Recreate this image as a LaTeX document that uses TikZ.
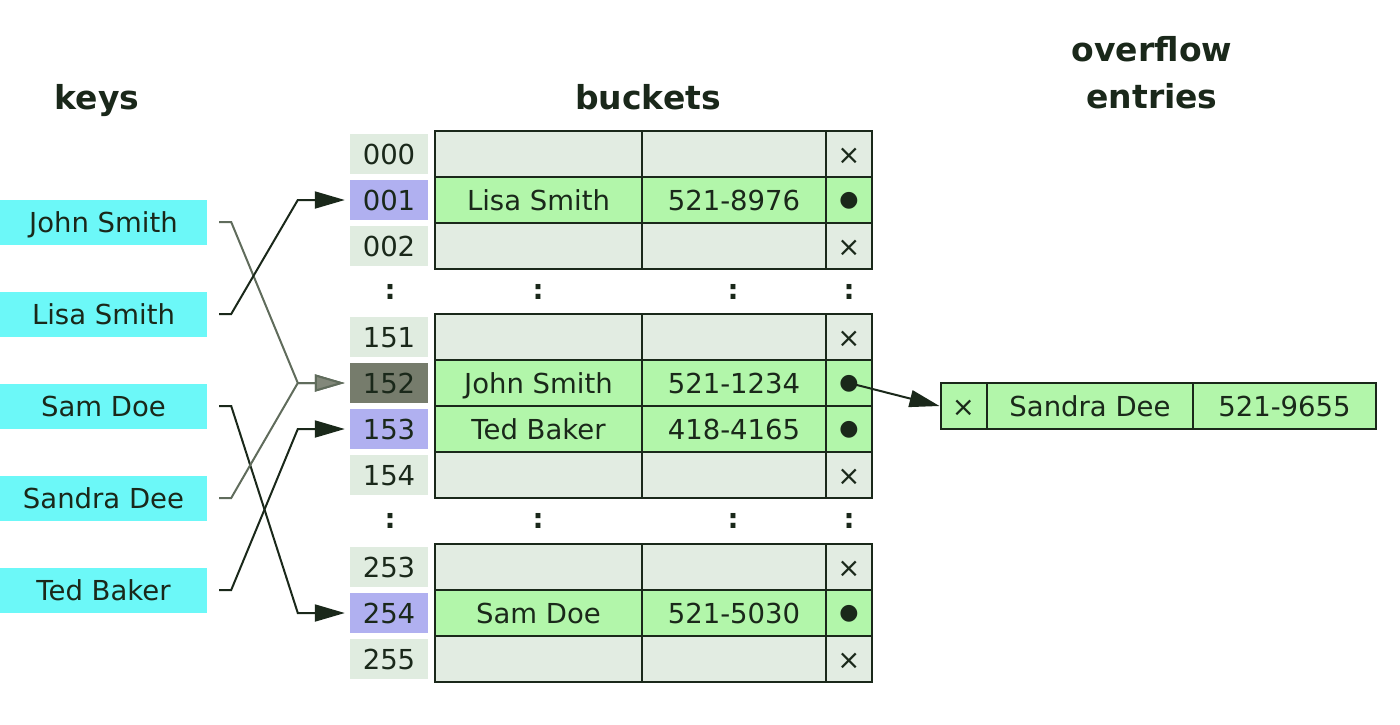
\documentclass[tikz,border=0pt]{standalone}
\usepackage{fontspec}
\setmainfont{DejaVu Sans}
\usetikzlibrary{arrows.meta}

\definecolor{keycyan}{RGB}{108,248,248}
\definecolor{idxgray}{RGB}{224,236,224}
\definecolor{idxblue}{RGB}{176,176,240}
\definecolor{idxdark}{RGB}{118,124,108}
\definecolor{cellgray}{RGB}{226,236,226}
\definecolor{cellgreen}{RGB}{178,246,170}
\definecolor{ink}{RGB}{26,40,26}
\definecolor{graylink}{RGB}{96,108,92}
\definecolor{grayhead}{RGB}{130,136,122}

\newcommand{\dotmark}{\raisebox{4pt}{\fontsize{22}{22}\selectfont ●}}

\begin{document}
\begin{tikzpicture}[x=1pt,y=-1pt,font=\fontsize{27.5}{32}\selectfont,text=ink,
  title/.style={font=\fontsize{33}{47}\selectfont\bfseries,align=center},
  key node/.style={fill=keycyan,minimum width=207pt,minimum height=45pt,inner sep=0pt,text height=22pt,text depth=2pt},
  idx node/.style={fill=idxgray,minimum width=78pt,minimum height=40pt,inner sep=0pt,text height=22pt,text depth=2pt},
  hit node/.style={idx node,fill=idxblue},
  clash node/.style={idx node,fill=idxdark},
  cell/.style={draw=ink,line width=2pt,fill=cellgray,minimum height=46pt,inner sep=0pt,text height=22pt,text depth=2pt},
  free/.style={},
  full/.style={fill=cellgreen},
  name cell/.style={cell,minimum width=207pt},
  phone cell/.style={cell,minimum width=184pt},
  flag cell/.style={cell,minimum width=46pt},
  link/.style={draw=ink,line width=2pt,shorten <=12pt,shorten >=5pt,-{Triangle[length=30pt,width=17pt]}},
  gray link/.style={link,draw=graylink,-{Triangle[length=30pt,width=17pt,fill=grayhead]}}]

  \useasboundingbox (0,0) rectangle (1400,724);

  \node[title,anchor=base] (keys)    at (97,109.5)  {keys};
  \node[title,anchor=base] (buckets) at (648,109.5) {buckets};
  \node[title] (overflow) at (1152,73) {overflow\\entries};

  \node[key node] (john)   at (103.5,222) {John Smith};
  \node[key node] (lisa)   at (103.5,314) {Lisa Smith};
  \node[key node] (sam)    at (103.5,406) {Sam Doe};
  \node[key node] (sandra) at (103.5,498) {Sandra Dee};
  \node[key node] (ted)    at (103.5,590) {Ted Baker};

  % buckets, one row at a time
  \foreach \y/\k/\idx/\st/\n/\p/\f in {
      154/000/idx node/free/{}/{}/×,
      200/001/hit node/full/Lisa Smith/521-8976/\dotmark,
      246/002/idx node/free/{}/{}/×,
      337/151/idx node/free/{}/{}/×,
      383/152/clash node/full/John Smith/521-1234/\dotmark,
      429/153/hit node/full/Ted Baker/418-4165/\dotmark,
      475/154/idx node/free/{}/{}/×,
      567/253/idx node/free/{}/{}/×,
      613/254/hit node/full/Sam Doe/521-5030/\dotmark,
      659/255/idx node/free/{}/{}/×} {
    \node[\idx] (i\k) at (389,\y) {\k};
    \node[name cell,\st]  (n\k) at (538.5,\y) {\n};
    \node[phone cell,\st] (p\k) at (734,\y)   {\p};
    \node[flag cell,\st]  (f\k) at (849,\y)   {\f};
  }

  \foreach \y in {292,521}
    \foreach \x in {390,538,733,849}
      \node (gap-\x-\y) at (\x,\y) {\textbf{:}};

  \node[flag cell,full] (o1) at (963.5,406) {×};
  \node[name cell,full,minimum width=206pt] (o2) at (1090,406) {Sandra Dee};
  \node[phone cell,full,minimum width=183pt] (o3) at (1284.5,406) {521-9655};

  \draw[gray link] (john.east)   -- ++(24,0) -- ([xshift=-52pt]i152.west) -- (i152.west);
  \draw[link]      (lisa.east)   -- ++(24,0) -- ([xshift=-52pt]i001.west) -- (i001.west);
  \draw[link]      (sam.east)    -- ++(24,0) -- ([xshift=-52pt]i254.west) -- (i254.west);
  \draw[gray link] (sandra.east) -- ++(24,0) -- ([xshift=-52pt]i152.west) -- (i152.west);
  \draw[link]      (ted.east)    -- ++(24,0) -- ([xshift=-52pt]i153.west) -- (i153.west);

  \path (f152.center) edge[link,shorten <=0pt,shorten >=0pt] (o1.west);

\end{tikzpicture}
\end{document}
